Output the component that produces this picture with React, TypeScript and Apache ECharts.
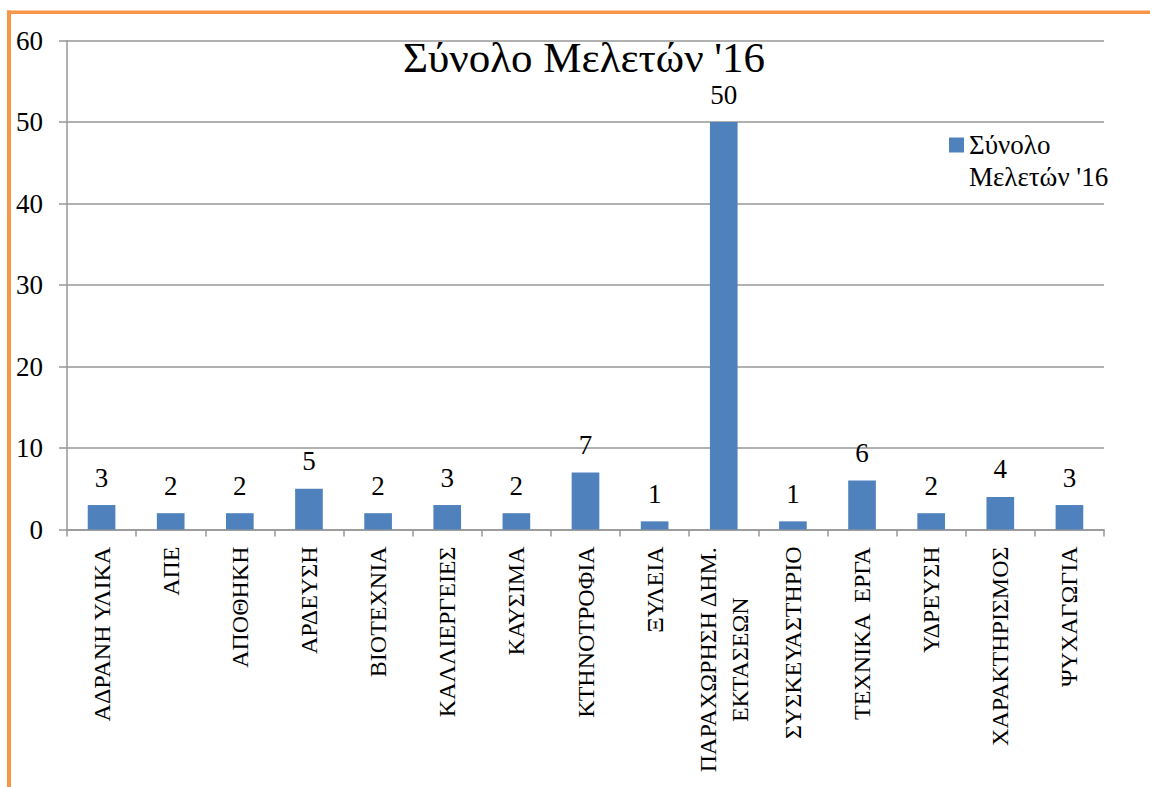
import React, { useEffect, useRef } from "react";
import * as echarts from "echarts";

const categories = [
  "ΑΔΡΑΝΗ ΥΛΙΚΑ",
  "ΑΠΕ",
  "ΑΠΟΘΗΚΗ",
  "ΑΡΔΕΥΣΗ",
  "ΒΙΟΤΕΧΝΙΑ",
  "ΚΑΛΛΙΕΡΓΕΙΕΣ",
  "ΚΑΥΣΙΜΑ",
  "ΚΤΗΝΟΤΡΟΦΙΑ",
  "ΞΥΛΕΙΑ",
  "ΠΑΡΑΧΩΡΗΣΗ ΔΗΜ.\nΕΚΤΑΣΕΩΝ",
  "ΣΥΣΚΕΥΑΣΤΗΡΙΟ",
  "ΤΕΧΝΙΚΑ  ΕΡΓΑ",
  "ΥΔΡΕΥΣΗ",
  "ΧΑΡΑΚΤΗΡΙΣΜΟΣ",
  "ΨΥΧΑΓΩΓΙΑ",
];
const values = [3, 2, 2, 5, 2, 3, 2, 7, 1, 50, 1, 6, 2, 4, 3];
const seriesName = "Σύνολο Μελετών '16";
const titleText = "Σύνολο Μελετών '16";

const FONT = "Liberation Serif";
const GRAY = "#979797";

const txt = (size: number, extra: any = {}) => ({
  fontFamily: FONT,
  fontSize: size,
  fontWeight: "normal",
  fontStyle: "normal",
  color: "#000",
  ...extra,
});

export default function App() {
  const ref = useRef<HTMLDivElement>(null);
  useEffect(() => {
    if (!ref.current) return;
    const chart = echarts.init(ref.current, undefined, { renderer: "svg" });
    chart.setOption({
      animation: false,
      backgroundColor: "#ffffff",
      textStyle: { fontFamily: FONT },
      title: {
        text: titleText,
        left: 403,
        textAlign: "left",
        top: 36,
        padding: 0,
        textStyle: txt(43),
      },
      legend: {
        data: [seriesName],
        left: 949,
        top: 97,
        padding: 0,
        itemWidth: 15,
        itemHeight: 15,
        itemGap: 6,
        icon: "rect",
        formatter: () => "\nΣύνολο\nΜελετών '16",
        textStyle: txt(27, { lineHeight: 32 }),
      },
      grid: { left: 67, right: 46, top: 40.5, bottom: 257.5, containLabel: false },
      xAxis: {
        type: "category",
        data: categories,
        boundaryGap: true,
        axisLine: { show: true, lineStyle: { color: GRAY, width: 1.5 } },
        axisTick: { show: true, length: 7, lineStyle: { color: GRAY, width: 1.5 } },
        axisLabel: {
          interval: 0,
          rotate: 90,
          margin: 17,
          ...txt(24),
          formatter: (v: string) => v.split("\n").map((l) => `{c|${l}}`).join("\n"),
          rich: {
            c: txt(24, { align: "center", lineHeight: 32 }),
          },
        },
      },
      yAxis: {
        type: "value",
        min: 0,
        max: 60,
        interval: 10,
        axisLine: { show: true, lineStyle: { color: GRAY, width: 1.5 } },
        axisTick: { show: true, length: 8, lineStyle: { color: GRAY, width: 1.5 } },
        splitLine: { show: true, lineStyle: { color: GRAY, width: 1.5 } },
        axisLabel: { margin: 24, ...txt(27) },
      },
      series: [
        {
          name: seriesName,
          type: "bar",
          data: values,
          barWidth: "40%",
          itemStyle: { color: "#4F81BD" },
          label: {
            show: true,
            position: "top",
            distance: 14,
            ...txt(27),
          },
        },
      ],
      graphic: [
        {
          type: "line",
          shape: { x1: 7, y1: 12.3, x2: 1150, y2: 12.3 },
          style: { stroke: "#F79646", lineWidth: 3.5 },
          z: 100,
        },
        {
          type: "line",
          shape: { x1: 9, y1: 10.5, x2: 9, y2: 787 },
          style: { stroke: "#F79646", lineWidth: 4 },
          z: 100,
        },
      ],
    });
    return () => chart.dispose();
  }, []);
  return (
    <div
      ref={ref}
      style={{ position: "fixed", left: 0, top: 0, width: 1150, height: 787, background: "#fff" }}
    />
  );
}
